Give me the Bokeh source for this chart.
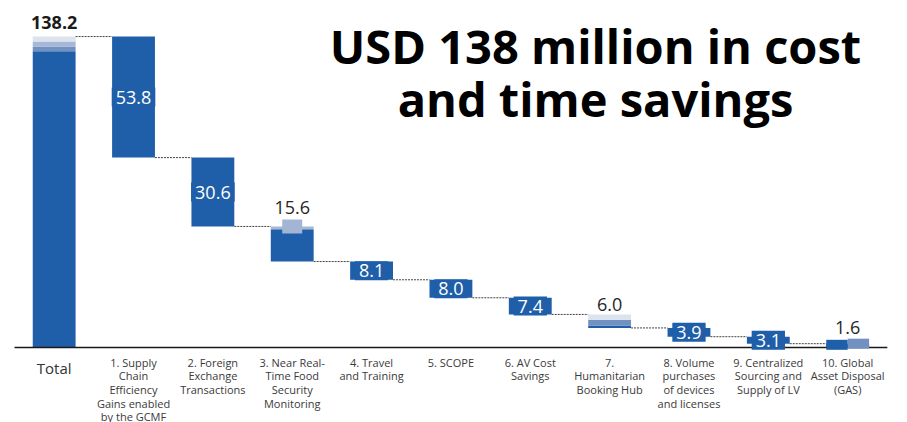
import numpy as np
from bokeh.plotting import figure
from bokeh.models import Range1d, ColumnDataSource, Label
from bokeh.core.properties import value
from bokeh.embed import file_html
from bokeh.resources import INLINE

categories = [
    "Total",
    "1. Supply\nChain\nEfficiency\nGains enabled\nby the GCMF",
    "2. Foreign\nExchange\nTransactions",
    "3. Near Real-\nTime Food\nSecurity\nMonitoring",
    "4. Travel\nand Training",
    "5. SCOPE",
    "6. AV Cost\nSavings",
    "7.\nHumanitarian\nBooking Hub",
    "8. Volume\npurchases\nof devices\nand licenses",
    "9. Centralized\nSourcing and\nSupply of LV",
    "10. Global\nAsset Disposal\n(GAS)",
]
values = [138.2, 53.8, 30.6, 15.6, 8.1, 8.0, 7.4, 6.0, 3.9, 3.1, 1.6]
# shades stacked inside each bar, bottom -> top
seg_dark = [131.7, 53.8, 30.6, 14.4, 8.1, 8.0, 7.4, 1.1, 3.9, 3.1, 1.6]
seg_mid = [2.1, 0, 0, 0, 0, 0, 0, 2.5, 0, 0, 0]
seg_light = [2.2, 0, 0, 1.2, 0, 0, 0, 0, 0, 0, 0]
seg_pale = [2.2, 0, 0, 0, 0, 0, 0, 2.4, 0, 0, 0]
labels_inside = ["", "53.8", "30.6", "", "8.1", "8.0", "7.4", "", "3.9", "3.1", ""]
labels_above = ["138.2", "", "", "15.6", "", "", "", "6.0", "", "", "1.6"]
title_lines = ["USD 138 million in cost", "and time savings"]

DARK = "#1f5ea8"
MID = "#7290c0"
LIGHT = "#a6b8d6"
PALE = "#dde3ee"

n = len(values)
xs = np.arange(n)
vals = np.array(values)
top = np.zeros(n)
bottom = np.zeros(n)
top[0] = vals[0]
for i in range(1, n):
    top[i] = vals[0] - vals[1:i].sum()
    bottom[i] = max(top[i] - vals[i], 0)

W, H = 907, 422
ppu_x = 79.35
ppu_y = 2.25
base_px = 347
x0 = -0.5 - 14 / ppu_x
p = figure(width=W, height=H, output_backend="svg", toolbar_location=None,
           x_range=Range1d(x0, x0 + W / ppu_x),
           y_range=Range1d(-(H - base_px) / ppu_y, base_px / ppu_y),
           x_axis_type=None, y_axis_type=None, min_border=0)
p.outline_line_color = None
p.xgrid.visible = False
p.ygrid.visible = False
p.background_fill_color = "white"
p.border_fill_color = "white"

bw = 0.54
# stacked segments
cur = bottom.copy()
for seg, col in [(seg_dark, DARK), (seg_mid, MID), (seg_light, LIGHT), (seg_pale, PALE)]:
    s = np.array(seg)
    m = s > 0
    p.vbar(x=xs[m], bottom=cur[m], top=(cur + s)[m], width=bw, fill_color=col, line_color=None)
    cur = cur + s

# connectors
p.segment(x0=xs[:-1] + bw / 2, x1=xs[1:] - bw / 2, y0=top[1:], y1=top[1:],
          line_color="#444444", line_width=1, line_dash="2 1")

# baseline
p.segment(x0=[-0.5], x1=[n - 0.5], y0=[0], y1=[0], line_color="#1a1a1a", line_width=1.6)

# small marker boxes (bar 3 and bar 10)
p.rect(x=[3], y=[top[3]], width=20, height=14, width_units="screen", height_units="screen",
       fill_color="#a3b5d4", line_color=None)
p.rect(x=[10 - bw / 4], y=[(top[10] + bottom[10]) / 2 + 0.3], width=bw / 2, height=10,
       height_units="screen", fill_color=DARK, line_color=None)
p.rect(x=[10 + bw / 4], y=[(top[10] + bottom[10]) / 2 + 0.8], width=bw / 2, height=10,
       height_units="screen", fill_color=MID, line_color=None)

# inside labels
li = [i for i in range(n) if labels_inside[i]]
src_in = ColumnDataSource(dict(x=xs[li], y=((top + bottom) / 2)[li], t=[labels_inside[i] for i in li]))
p.text(x="x", y="y", text="t", source=src_in, text_color="white", text_font=value("Open Sans"),
       text_font_size="18px", text_align="center", text_baseline="middle",
       background_fill_color=DARK, padding=(4, 3))

# above labels
for i in range(n):
    if not labels_above[i]:
        continue
    if i == 0:
        p.text(x=[0], y=[top[0]], text=[labels_above[0]], y_offset=-14, text_color="#1a1a1a",
               text_font=value("Open Sans"), text_font_size="18px", text_font_style="bold",
               text_align="center", text_baseline="alphabetic")
    else:
        off = {3: -19, 7: -10, 10: -16}.get(i, -12)
        p.text(x=[i], y=[top[i]], text=[labels_above[i]], y_offset=off, text_color="#262626",
               text_font=value("Open Sans"), text_font_size="18px", text_align="center",
               text_baseline="alphabetic")

# category labels
p.text(x=[0], y=[0], text=[categories[0]], y_offset=10, text_color="#333333",
       text_font=value("Open Sans"), text_font_size="15px", text_align="center",
       text_baseline="top")
p.text(x=xs[1:], y=np.zeros(n - 1), text=categories[1:], y_offset=7, text_color="#3a3a3a",
       text_font=value("Open Sans"), text_font_size="11px", text_align="center",
       text_baseline="top", text_line_height=0.915)

# title
for t, yy in zip(title_lines, [377, 324]):
    p.add_layout(Label(x=595, y=yy, x_units="screen", y_units="screen", text=t,
                       text_font="Open Sans", text_font_size="47px", text_font_style="bold",
                       text_color="black", text_align="center", text_baseline="alphabetic"))

open("out.html", "w").write(file_html(p, INLINE))
